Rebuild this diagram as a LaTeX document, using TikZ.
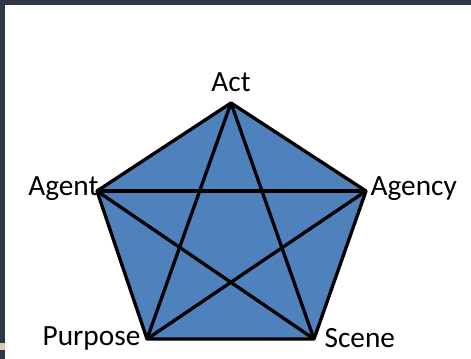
\documentclass[tikz,border=0pt]{standalone}
\usepackage{fontspec}
\setmainfont{Carlito}
\usepackage{xcolor}
\usetikzlibrary{positioning,calc}
\definecolor{framedark}{RGB}{47,54,72}
\definecolor{pentablue}{RGB}{79,129,189}
\definecolor{flecktan}{RGB}{222,200,172}

\begin{document}
\begin{tikzpicture}[x=0.75pt, y=-0.75pt, edge/.style={draw=black, line width=2.5pt, line join=round}, corner/.style={inner sep=1pt, font=\fontsize{22}{24}\selectfont}]
% page and frame
\useasboundingbox (0,0) rectangle (471,359);
\fill[white] (0,0) rectangle (471,359);
\fill[framedark] (0,0) rectangle (471,5);
\fill[framedark] (0,0) rectangle (5,359);
\fill[flecktan] (0,343) rectangle (5,350);
% pentagon corners
\coordinate (act) at (231,103);
\coordinate (agent) at (97,191);
\coordinate (agency) at (366,191);
\coordinate (purpose) at (147,339);
\coordinate (scene) at (314,339);
\filldraw[edge, fill=pentablue] (act) -- (agency) -- (scene) -- (purpose) -- (agent) -- cycle;
% star
\draw[edge] (act) -- (purpose);
\draw[edge] (act) -- (scene);
\draw[edge] (agent) -- (agency);
\draw[edge] (agent) -- (scene);
\draw[edge] (agency) -- (purpose);
% labels
\node[corner, anchor=south] (actlbl) at ($(act)+(0,-10)$) {Act};
\node[corner, anchor=east] (agentlbl) at ($(agent)+(3,-2)$) {Agent};
\node[corner, anchor=west] (agencylbl) at ($(agency)+(3,-2)$) {Agency};
\node[corner, anchor=east] (purposelbl) at ($(purpose)+(-5,-1)$) {Purpose};
\node[corner, anchor=west] (scenelbl) at ($(scene)+(9,-1)$) {Scene};
\end{tikzpicture}
\end{document}
